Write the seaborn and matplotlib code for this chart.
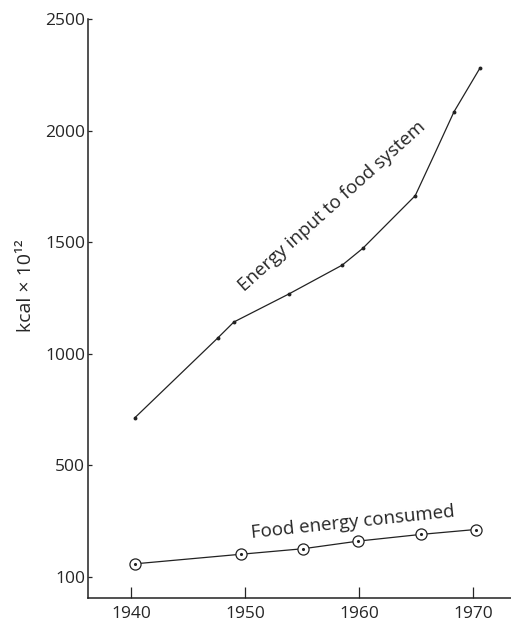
import numpy as np
import seaborn as sns
import matplotlib.pyplot as plt

# Valores (kcal x 10^12)
input_years = [1940.3, 1947.6, 1949.0, 1953.8, 1958.5, 1960.3, 1964.9, 1966.6, 1968.3, 1970.6]
input_kcal = [712, 1071, 1142, 1267, 1397, 1472, 1708, 1895, 2084, 2282]

food_years = [1940.3, 1949.6, 1955.1, 1959.9, 1965.4, 1970.2]
food_kcal = [58, 101, 126, 160, 190, 212]

x_ticks = [1940, 1950, 1960, 1970]
y_ticks = [0, 500, 1000, 1500, 2000, 2500]
# la figura original rotula el tick inferior como "100"
y_tick_labels = ['100', '500', '1000', '1500', '2000', '2500']

sns.set_style('ticks')
plt.rcParams['font.family'] = ['Open Sans', 'DejaVu Sans']

fig = plt.figure(figsize=(5.11, 6.25), dpi=100)
ax = fig.add_axes([0.172, 0.0432, 0.828, 0.9264])

# Energía que entra al sistema alimentario
sns.lineplot(x=input_years, y=input_kcal, ax=ax, color='#222222', lw=0.9,
             estimator=None, marker='o', markersize=2.8, markeredgewidth=0,
             markevery=[0, 1, 2, 3, 4, 5, 6, 8, 9])

# Energía de los alimentos consumidos
sns.lineplot(x=food_years, y=food_kcal, ax=ax, color='#222222', lw=0.9,
             estimator=None, marker='o', markersize=8, markerfacecolor='white',
             markeredgecolor='#222222', markeredgewidth=0.9)
sns.scatterplot(x=food_years, y=food_kcal, ax=ax, color='#222222', s=5,
                linewidth=0, zorder=5)

ax.text(1957.6, 1660, 'Energy input to food system', rotation=42,
        rotation_mode='anchor', ha='center', va='center', fontsize=13.5)
ax.text(1959.4, 245, 'Food energy consumed', rotation=6,
        rotation_mode='anchor', ha='center', va='center', fontsize=13.5)

ax.set_xlim(1936.2, 1973.3)
ax.set_ylim(-95, 2500)
ax.set_xticks(x_ticks)
ax.set_xticklabels([str(t) for t in x_ticks], fontsize=12.5)
ax.set_yticks(y_ticks)
ax.set_yticklabels(y_tick_labels, fontsize=12.5)
ax.tick_params(axis='y', direction='in', length=3, width=0.9, pad=2)
ax.tick_params(axis='x', direction='in', length=8, width=0.9, pad=6)
ax.set_ylabel('kcal × 10¹²', fontsize=14)
ax.yaxis.set_label_coords(-0.125, 0.54)

sns.despine(ax=ax)
for s in ['left', 'bottom']:
    ax.spines[s].set_linewidth(1.1)
    ax.spines[s].set_color('#222222')

fig.savefig('out.png', dpi=100)
